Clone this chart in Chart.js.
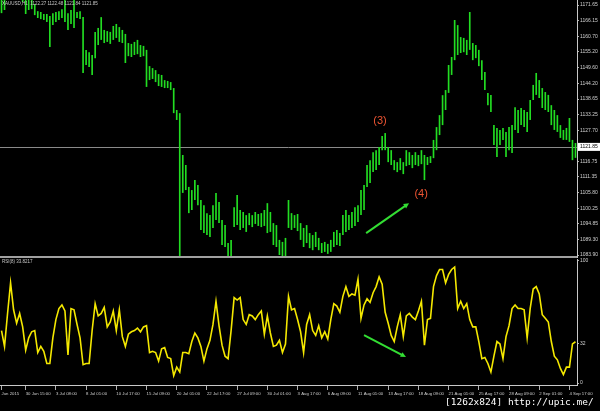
<!DOCTYPE html>
<html>
<head>
<meta charset="utf-8">
<title>XAUUSD H1 + RSI(8)</title>
<script src="https://cdn.jsdelivr.net/npm/chart.js@4.4.0/dist/chart.umd.min.js"></script>
<style>
    body { margin: 0; background: #000; }
    #wrap { position: relative; width: 600px; height: 411px; overflow: hidden; background: #000; }
    #priceBox { position: absolute; left: 0; top: 0; width: 600px; height: 258px; }
    #rsiBox { position: absolute; left: 0; top: 258px; width: 600px; height: 153px; }
    #stamp { position: absolute; left: 445px; top: 396px; color: #fff; font: 9.5px 'DejaVu Sans Mono', monospace; white-space: pre; }
</style>
</head>
<body>
<div id="wrap">
    <div id="priceBox"><canvas id="priceChart"></canvas></div>
    <div id="rsiBox"><canvas id="rsiChart"></canvas></div>
    <div id="stamp">[1262x824] http://upic.me/</div>
</div>
<script>
// hourly bars, high / low
const priceHigh = [
    1174.5, 1174.1, 1177.6, 1178.3, 1176.9, 1177.6, 1176.6, 1175.5, 1174.1, 1174.5,
    1173.4, 1172.0, 1169.5, 1169.2, 1168.5, 1168.5, 1167.8, 1168.8, 1169.2, 1169.5,
    1170.2, 1173.8, 1168.8, 1169.9, 1174.1, 1169.2, 1169.5, 1167.4, 1155.9, 1155.1,
    1154.1, 1162.2, 1163.6, 1167.4, 1162.9, 1162.5, 1162.2, 1164.3, 1165.0, 1163.9,
    1162.9, 1161.5, 1158.3, 1158.0, 1158.7, 1159.4, 1157.6, 1157.3, 1155.9, 1150.2,
    1149.5, 1148.8, 1147.4, 1147.1, 1145.3, 1145.0, 1144.6, 1142.5, 1134.8, 1133.7,
    1119.0, 1115.5, 1107.8, 1106.7, 1110.2, 1108.5, 1103.2, 1101.4, 1098.6, 1097.9,
    1101.4, 1105.7, 1102.5, 1096.2, 1094.4, 1088.1, 1089.2, 1100.7, 1105.0, 1099.7,
    1099.0, 1097.9, 1098.6, 1097.9, 1099.0, 1098.3, 1098.6, 1099.7, 1102.1, 1099.0,
    1095.1, 1094.4, 1089.2, 1088.5, 1089.9, 1103.2, 1098.6, 1097.9, 1098.3, 1095.1,
    1093.4, 1094.4, 1091.6, 1090.9, 1092.0, 1089.9, 1088.1, 1088.5, 1087.8, 1089.2,
    1092.0, 1092.7, 1091.6, 1097.9, 1099.7, 1097.9, 1099.0, 1100.7, 1101.4, 1106.7,
    1108.5, 1115.5, 1117.2, 1120.0, 1120.7, 1121.8, 1125.7, 1126.7, 1121.8, 1120.7,
    1117.2, 1116.5, 1117.9, 1116.5, 1120.7, 1120.0, 1119.0, 1120.0, 1119.0, 1120.7,
    1119.0, 1118.3, 1118.6, 1124.3, 1128.8, 1133.0, 1140.0, 1141.8, 1150.6, 1153.4,
    1166.4, 1164.6, 1160.4, 1160.1, 1159.4, 1169.2, 1158.3, 1157.6, 1155.9, 1152.3,
    1148.1, 1140.8, 1140.1, 1129.5, 1128.5, 1127.8, 1128.5, 1127.1, 1128.8, 1129.5,
    1135.8, 1134.8, 1135.5, 1134.8, 1134.1, 1138.3, 1143.6, 1147.8, 1145.3, 1142.5,
    1141.1, 1140.1, 1136.5, 1134.8, 1133.0, 1129.5, 1127.8, 1128.5, 1132.0, 1124.3,
    1123.2
];
const priceLow = [
    1168.8, 1169.9, 1174.1, 1174.8, 1174.5, 1174.1, 1173.8, 1172.7, 1168.5, 1169.9,
    1170.2, 1168.1, 1167.1, 1166.7, 1166.4, 1165.7, 1156.9, 1164.6, 1165.7, 1166.4,
    1167.1, 1165.7, 1162.9, 1165.0, 1163.6, 1167.1, 1166.7, 1147.8, 1150.6, 1149.9,
    1147.1, 1153.0, 1157.6, 1159.4, 1158.3, 1158.7, 1158.0, 1159.4, 1160.1, 1158.7,
    1158.3, 1151.3, 1153.7, 1153.4, 1154.1, 1154.4, 1153.4, 1153.7, 1142.9, 1145.3,
    1145.7, 1144.6, 1143.2, 1142.9, 1142.5, 1142.5, 1141.8, 1133.7, 1131.3, 1081.4,
    1105.7, 1106.7, 1098.6, 1099.7, 1103.2, 1101.4, 1092.7, 1091.6, 1090.9, 1090.2,
    1093.4, 1096.2, 1095.1, 1087.4, 1086.7, 1082.1, 1082.8, 1093.7, 1094.4, 1092.7,
    1093.4, 1092.0, 1094.4, 1093.7, 1094.8, 1094.1, 1093.7, 1094.1, 1091.6, 1092.0,
    1087.4, 1086.7, 1083.9, 1082.8, 1083.5, 1093.4, 1092.7, 1093.4, 1092.3, 1089.2,
    1086.7, 1088.1, 1086.3, 1085.6, 1086.7, 1085.6, 1084.6, 1085.0, 1084.3, 1085.0,
    1086.7, 1087.4, 1087.1, 1090.9, 1092.0, 1092.7, 1093.4, 1094.1, 1095.5, 1097.9,
    1099.7, 1107.8, 1109.2, 1113.0, 1113.7, 1115.5, 1120.7, 1120.7, 1116.5, 1115.5,
    1113.7, 1113.0, 1113.7, 1112.3, 1115.1, 1115.5, 1114.4, 1115.5, 1115.1, 1115.8,
    1110.2, 1115.5, 1116.2, 1117.9, 1120.7, 1126.0, 1129.5, 1134.8, 1140.8, 1147.1,
    1152.3, 1154.1, 1154.8, 1155.1, 1154.1, 1155.9, 1152.3, 1153.0, 1150.2, 1145.3,
    1141.8, 1136.5, 1134.1, 1122.5, 1118.3, 1122.5, 1124.3, 1118.3, 1120.7, 1119.7,
    1127.8, 1126.7, 1129.5, 1128.8, 1127.1, 1131.3, 1138.3, 1140.1, 1139.0, 1135.5,
    1134.8, 1134.1, 1129.5, 1127.8, 1127.1, 1125.0, 1124.3, 1124.3, 1123.6, 1117.2,
    1118.0
];
const rsiValues = [
    43, 30, 57, 82, 60, 49, 57, 46, 27, 37,
    42, 43, 25, 30, 26, 16, 16, 37, 52, 61,
    64, 59, 23, 61, 60, 48, 37, 15, 16, 16,
    43, 65, 55, 57, 62, 46, 50, 59, 43, 60,
    38, 30, 40, 42, 43, 45, 42, 46, 47, 25,
    26, 25, 18, 28, 29, 21, 20, 6, 13, 9,
    25, 25, 24, 34, 41, 37, 30, 18, 28, 35,
    48, 67, 47, 31, 22, 20, 43, 70, 68, 70,
    52, 48, 56, 55, 52, 56, 59, 40, 55, 41,
    30, 31, 35, 25, 32, 71, 60, 61, 52, 42,
    25, 48, 56, 43, 39, 47, 37, 42, 36, 52,
    65, 63, 58, 71, 79, 71, 73, 72, 85, 53,
    64, 69, 66, 74, 79, 87, 81, 58, 49, 39,
    34, 46, 56, 38, 55, 57, 54, 52, 59, 67,
    31, 52, 53, 79, 88, 93, 93, 82, 89, 93,
    95, 61, 67, 61, 65, 52, 46, 46, 34, 20,
    21, 16, 9, 22, 34, 32, 20, 38, 47, 61,
    64, 61, 61, 60, 37, 61, 77, 79, 73, 56,
    53, 50, 34, 22, 19, 12, 7, 13, 13, 32,
    33.8217
];

const timeLabels = ['Jun 2015', '30 Jun 15:00', '3 Jul 08:00', '8 Jul 01:00', '10 Jul 17:00',
    '15 Jul 09:00', '20 Jul 01:00', '22 Jul 17:00', '27 Jul 09:00', '30 Jul 01:00',
    '3 Aug 17:00', '6 Aug 09:00', '11 Aug 01:00', '13 Aug 17:00', '18 Aug 09:00',
    '21 Aug 01:00', '25 Aug 17:00', '28 Aug 09:00', '2 Sep 01:00', '4 Sep 17:00'];
const firstLabelBar = 8;
const labelEvery = 10;

const priceTicks = [1171.65, 1166.15, 1160.70, 1155.20, 1149.60, 1144.20, 1138.65, 1133.25,
    1127.70, 1116.75, 1111.35, 1105.80, 1100.25, 1094.85, 1089.30, 1083.90];
const rsiTicks = [100, 32, 0];

const lastPrice = 1121.85;
const priceHeader = 'XAUUSD,H1  1122.27 1122.48 1121.84 1121.85';
const rsiHeader = 'RSI(8) 33.8217';

// hand-drawn marks on the picture (bar index, value)
const waveLabels = ['(3)', '(4)'];
const waveBars = [125.3, 138.9];
const wavePrices = [1130.9, 1105.3];
const priceArrowBars = [120.7, 134.9];
const priceArrowValues = [1091.6, 1102.1];
const rsiArrowBars = [120.0, 133.9];
const rsiArrowValues = [39.3, 21.3];

const bars = priceHigh.map((h, i) => i);
const labelBars = timeLabels.map((t, k) => k === 0 ? 0 : firstLabelBar + (k - 1) * labelEvery);

Chart.defaults.font.family = '"Liberation Sans", sans-serif';
Chart.defaults.color = '#d0d0d0';

function drawArrow(ctx, x1, y1, x2, y2) {
    const ang = Math.atan2(y2 - y1, x2 - x1);
    const head = 6;
    ctx.strokeStyle = '#33dd33';
    ctx.fillStyle = '#33dd33';
    ctx.lineWidth = 2;
    ctx.beginPath();
    ctx.moveTo(x1, y1);
    ctx.lineTo(x2 - head * 0.7 * Math.cos(ang), y2 - head * 0.7 * Math.sin(ang));
    ctx.stroke();
    ctx.beginPath();
    ctx.moveTo(x2, y2);
    ctx.lineTo(x2 - head * Math.cos(ang - 0.45), y2 - head * Math.sin(ang - 0.45));
    ctx.lineTo(x2 - head * Math.cos(ang + 0.45), y2 - head * Math.sin(ang + 0.45));
    ctx.closePath();
    ctx.fill();
}

const pricePanel = {
    id: 'pricePanel',
    beforeDatasetsDraw(chart) {
        const { ctx, chartArea: a, scales: { y } } = chart;
        const yb = Math.round(y.getPixelForValue(lastPrice)) + 0.5;
        ctx.save();
        ctx.strokeStyle = '#8a8a8a';
        ctx.lineWidth = 1;
        ctx.beginPath();
        ctx.moveTo(a.left, yb);
        ctx.lineTo(a.right, yb);
        ctx.stroke();
        ctx.restore();
    },
    afterDraw(chart) {
        const { ctx, chartArea: a, scales: { x, y } } = chart;
        ctx.save();
        ctx.strokeStyle = '#a0a0a0';
        ctx.lineWidth = 2;
        ctx.beginPath();
        ctx.moveTo(0, a.bottom);
        ctx.lineTo(a.right, a.bottom);
        ctx.stroke();

        ctx.font = '4.5px "Liberation Sans"';
        ctx.fillStyle = '#c8c8c8';
        ctx.textAlign = 'left';
        ctx.textBaseline = 'top';
        ctx.fillText(priceHeader, 2, 2);

        const yb = y.getPixelForValue(lastPrice);
        ctx.fillStyle = '#fff';
        ctx.fillRect(a.right + 1, yb - 4, chart.width - a.right - 1, 8);
        ctx.fillStyle = '#000';
        ctx.font = '5px "Liberation Sans"';
        ctx.textBaseline = 'middle';
        ctx.fillText(lastPrice.toFixed(2), a.right + 3, yb);

        ctx.font = '11px "Liberation Sans"';
        ctx.fillStyle = '#ee5533';
        ctx.textAlign = 'center';
        waveLabels.forEach((t, i) => {
            ctx.fillText(t, x.getPixelForValue(waveBars[i]), y.getPixelForValue(wavePrices[i]));
        });

        drawArrow(ctx,
            x.getPixelForValue(priceArrowBars[0]), y.getPixelForValue(priceArrowValues[0]),
            x.getPixelForValue(priceArrowBars[1]), y.getPixelForValue(priceArrowValues[1]));
        ctx.restore();
    }
};

const rsiPanel = {
    id: 'rsiPanel',
    afterDraw(chart) {
        const { ctx, scales: { x, y } } = chart;
        ctx.save();
        ctx.font = '4.5px "Liberation Sans"';
        ctx.fillStyle = '#c8c8c8';
        ctx.textAlign = 'left';
        ctx.textBaseline = 'top';
        ctx.fillText(rsiHeader, 2, 2);
        drawArrow(ctx,
            x.getPixelForValue(rsiArrowBars[0]), y.getPixelForValue(rsiArrowValues[0]),
            x.getPixelForValue(rsiArrowBars[1]), y.getPixelForValue(rsiArrowValues[1]));
        ctx.restore();
    }
};

let priceChart = new Chart(document.getElementById('priceChart'), {
    type: 'bar',
    data: {
        labels: bars,
        datasets: [{
            data: priceLow.map((lo, i) => [lo, priceHigh[i]]),
            backgroundColor: '#22dd22',
            borderWidth: 0,
            barPercentage: 0.55,
            categoryPercentage: 1
        }]
    },
    options: {
        responsive: true,
        maintainAspectRatio: false,
        animation: false,
        layout: { padding: { left: 0, right: 0, top: 0, bottom: 1 } },
        plugins: { legend: { display: false }, tooltip: { enabled: false } },
        scales: {
            x: { display: false, offset: true },
            y: {
                position: 'right',
                min: 1083.2,
                max: 1173.41,
                afterBuildTicks: axis => { axis.ticks = priceTicks.map(v => ({ value: v })); },
                afterFit: axis => { axis.width = 23; axis.paddingTop = 0; axis.paddingBottom = 0; },
                grid: { drawOnChartArea: false, color: '#b0b0b0', tickLength: 2 },
                border: { color: '#c8c8c8', width: 1 },
                ticks: {
                    color: '#d0d0d0',
                    font: { size: 5 },
                    padding: 1,
                    callback: v => v.toFixed(2)
                }
            }
        }
    },
    plugins: [pricePanel]
});

let rsiChart = new Chart(document.getElementById('rsiChart'), {
    type: 'line',
    data: {
        labels: bars,
        datasets: [{
            data: rsiValues,
            borderColor: '#f4e800',
            borderWidth: 1.6,
            pointRadius: 0,
            tension: 0
        }]
    },
    options: {
        responsive: true,
        maintainAspectRatio: false,
        animation: false,
        layout: { padding: { left: 0, right: 0, top: 1, bottom: 0 } },
        plugins: { legend: { display: false }, tooltip: { enabled: false } },
        scales: {
            x: {
                offset: true,
                afterBuildTicks: axis => { axis.ticks = labelBars.map(v => ({ value: v })); },
                afterFit: axis => { axis.height = 26; axis.paddingLeft = 0; axis.paddingRight = 0; },
                grid: { drawOnChartArea: false, offset: false, color: '#b0b0b0', tickLength: 5 },
                border: { color: '#c8c8c8', width: 1 },
                ticks: {
                    align: 'start',
                    autoSkip: false,
                    maxRotation: 0,
                    color: '#d0d0d0',
                    font: { size: 4.3 },
                    padding: 1,
                    callback: (v, i) => timeLabels[i]
                }
            },
            y: {
                position: 'right',
                min: -1.6,
                max: 101.6,
                afterBuildTicks: axis => { axis.ticks = rsiTicks.map(v => ({ value: v })); },
                afterFit: axis => { axis.width = 23; axis.paddingTop = 0; axis.paddingBottom = 0; },
                grid: { drawOnChartArea: false, color: '#b0b0b0', tickLength: 2 },
                border: { color: '#c8c8c8', width: 1 },
                ticks: { color: '#d0d0d0', font: { size: 5 }, padding: 1, callback: v => v }
            }
        }
    },
    plugins: [rsiPanel]
});
</script>
</body>
</html>
